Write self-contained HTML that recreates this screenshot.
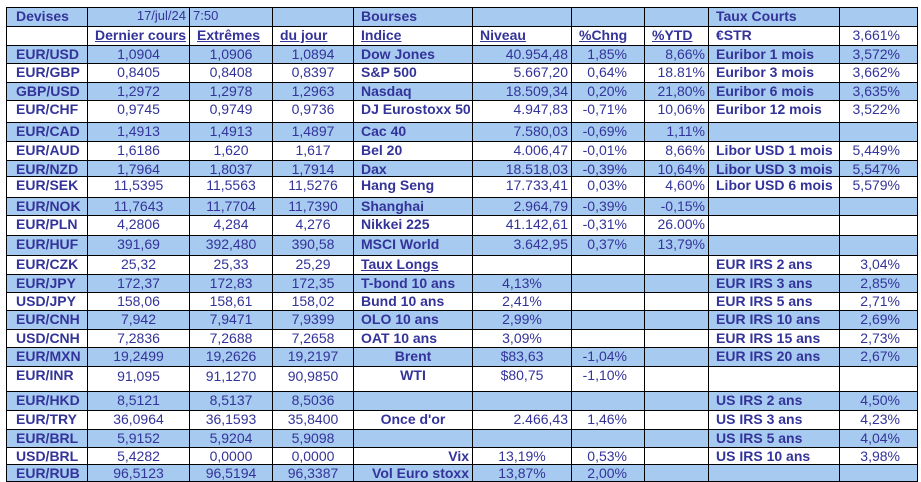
<!DOCTYPE html>
<html><head><meta charset="utf-8"><style>
body{margin:0;background:#fff;width:921px;height:482px;overflow:hidden}
table{position:absolute;left:6px;top:7px;width:912px;border-collapse:collapse;table-layout:fixed;font-family:"Liberation Sans",Arial,sans-serif;font-size:14px;color:#333399}
td{border:1px solid #000;padding:1px 3px 0 3px;line-height:14px;vertical-align:top;white-space:nowrap;overflow:hidden}
tr.b td{background:#a6caf0}
.l{font-weight:bold;text-align:left;padding-left:7px}
td.f{padding-left:9px}
.c{text-align:center}
.r{text-align:right}
.rp{text-align:right;padding-right:17px}
.u{text-decoration:underline;font-weight:bold;padding-left:7px}
.bc{font-weight:bold;text-align:center}
.br{font-weight:bold;text-align:right}
</style></head><body>
<table>
<colgroup><col style="width:81px"><col style="width:102px"><col style="width:83px"><col style="width:81px"><col style="width:119px"><col style="width:99px"><col style="width:73px"><col style="width:64px"><col style="width:131px"><col style="width:78px"></colgroup>
<tr class="b" style="height:19px"><td class="l f">Devises</td><td class="r" style="font-size:13px">17/jul/24</td><td style="font-size:13px">7:50</td><td></td><td class="l">Bourses</td><td></td><td></td><td></td><td class="l">Taux Courts</td><td></td></tr>
<tr style="height:19px"><td></td><td class="u">Dernier cours</td><td class="u">Extrêmes</td><td class="u">du jour</td><td class="u">Indice</td><td class="u">Niveau</td><td class="u">%Chng</td><td class="u">%YTD</td><td class="l">€STR</td><td class="rp">3,661%</td></tr>
<tr class="b" style="height:18px"><td class="l f">EUR/USD</td><td class="c">1,0904</td><td class="c">1,0906</td><td class="c">1,0894</td><td class="l">Dow Jones</td><td class="r">40.954,48</td><td class="rp">1,85%</td><td class="r">8,66%</td><td class="l">Euribor 1 mois</td><td class="rp">3,572%</td></tr>
<tr style="height:19px"><td class="l f">EUR/GBP</td><td class="c">0,8405</td><td class="c">0,8408</td><td class="c">0,8397</td><td class="l">S&amp;P 500</td><td class="r">5.667,20</td><td class="rp">0,64%</td><td class="r">18.81%</td><td class="l">Euribor 3 mois</td><td class="rp">3,662%</td></tr>
<tr class="b" style="height:18px"><td class="l f">GBP/USD</td><td class="c">1,2972</td><td class="c">1,2978</td><td class="c">1,2963</td><td class="l">Nasdaq</td><td class="r">18.509,34</td><td class="rp">0,20%</td><td class="r">21,80%</td><td class="l">Euribor 6 mois</td><td class="rp">3,635%</td></tr>
<tr style="height:22px"><td class="l f">EUR/CHF</td><td class="c">0,9745</td><td class="c">0,9749</td><td class="c">0,9736</td><td class="l">DJ Eurostoxx 50</td><td class="r">4.947,83</td><td class="rp">-0,71%</td><td class="r">10,06%</td><td class="l">Euribor 12 mois</td><td class="rp">3,522%</td></tr>
<tr class="b" style="height:19px"><td class="l f">EUR/CAD</td><td class="c">1,4913</td><td class="c">1,4913</td><td class="c">1,4897</td><td class="l">Cac 40</td><td class="r">7.580,03</td><td class="rp">-0,69%</td><td class="r">1,11%</td><td></td><td></td></tr>
<tr style="height:19px"><td class="l f">EUR/AUD</td><td class="c">1,6186</td><td class="c">1,620</td><td class="c">1,617</td><td class="l">Bel 20</td><td class="r">4.006,47</td><td class="rp">-0,01%</td><td class="r">8,66%</td><td class="l">Libor USD 1 mois</td><td class="rp">5,449%</td></tr>
<tr class="b" style="height:16px"><td class="l f">EUR/NZD</td><td class="c">1,7964</td><td class="c">1,8037</td><td class="c">1,7914</td><td class="l">Dax</td><td class="r">18.518,03</td><td class="rp">-0,39%</td><td class="r">10,64%</td><td class="l">Libor USD 3 mois</td><td class="rp">5,547%</td></tr>
<tr style="height:21px"><td class="l f">EUR/SEK</td><td class="c">11,5395</td><td class="c">11,5563</td><td class="c">11,5276</td><td class="l">Hang Seng</td><td class="r">17.733,41</td><td class="rp">0,03%</td><td class="r">4,60%</td><td class="l">Libor USD 6 mois</td><td class="rp">5,579%</td></tr>
<tr class="b" style="height:18px"><td class="l f">EUR/NOK</td><td class="c">11,7643</td><td class="c">11,7704</td><td class="c">11,7390</td><td class="l">Shanghai</td><td class="r">2.964,79</td><td class="rp">-0,39%</td><td class="r">-0,15%</td><td></td><td></td></tr>
<tr style="height:20px"><td class="l f">EUR/PLN</td><td class="c">4,2806</td><td class="c">4,284</td><td class="c">4,276</td><td class="l">Nikkei 225</td><td class="r">41.142,61</td><td class="rp">-0,31%</td><td class="r">26.00%</td><td></td><td></td></tr>
<tr class="b" style="height:20px"><td class="l f">EUR/HUF</td><td class="c">391,69</td><td class="c">392,480</td><td class="c">390,58</td><td class="l">MSCI World</td><td class="r">3.642,95</td><td class="rp">0,37%</td><td class="r">13,79%</td><td></td><td></td></tr>
<tr style="height:19px"><td class="l f">EUR/CZK</td><td class="c">25,32</td><td class="c">25,33</td><td class="c">25,29</td><td class="u">Taux Longs</td><td></td><td></td><td></td><td class="l">EUR IRS 2 ans</td><td class="rp">3,04%</td></tr>
<tr class="b" style="height:18px"><td class="l f">EUR/JPY</td><td class="c">172,37</td><td class="c">172,83</td><td class="c">172,35</td><td class="l">T-bond 10 ans</td><td class="c">4,13%</td><td></td><td></td><td class="l">EUR IRS 3 ans</td><td class="rp">2,85%</td></tr>
<tr style="height:18px"><td class="l f">USD/JPY</td><td class="c">158,06</td><td class="c">158,61</td><td class="c">158,02</td><td class="l">Bund 10 ans</td><td class="c">2,41%</td><td></td><td></td><td class="l">EUR IRS 5 ans</td><td class="rp">2,71%</td></tr>
<tr class="b" style="height:19px"><td class="l f">EUR/CNH</td><td class="c">7,942</td><td class="c">7,9471</td><td class="c">7,9399</td><td class="l">OLO 10 ans</td><td class="c">2,99%</td><td></td><td></td><td class="l">EUR IRS 10 ans</td><td class="rp">2,69%</td></tr>
<tr style="height:18px"><td class="l f">USD/CNH</td><td class="c">7,2836</td><td class="c">7,2688</td><td class="c">7,2658</td><td class="l">OAT 10 ans</td><td class="c">3,09%</td><td></td><td></td><td class="l">EUR IRS 15 ans</td><td class="rp">2,73%</td></tr>
<tr class="b" style="height:19px"><td class="l f">EUR/MXN</td><td class="c">19,2499</td><td class="c">19,2626</td><td class="c">19,2197</td><td class="bc">Brent</td><td class="c">$83,63</td><td class="rp">-1,04%</td><td></td><td class="l">EUR IRS 20 ans</td><td class="rp">2,67%</td></tr>
<tr style="height:25px"><td class="l f">EUR/INR</td><td class="c" style="padding-top:2px">91,095</td><td class="c" style="padding-top:2px">91,1270</td><td class="c" style="padding-top:2px">90,9850</td><td class="bc">WTI</td><td class="c">$80,75</td><td class="rp">-1,10%</td><td></td><td></td><td></td></tr>
<tr class="b" style="height:19px"><td class="l f">EUR/HKD</td><td class="c">8,5121</td><td class="c">8,5137</td><td class="c">8,5036</td><td></td><td></td><td></td><td></td><td class="l">US IRS 2 ans</td><td class="rp">4,50%</td></tr>
<tr style="height:19px"><td class="l f">EUR/TRY</td><td class="c">36,0964</td><td class="c">36,1593</td><td class="c">35,8400</td><td class="bc">Once d'or</td><td class="r">2.466,43</td><td class="rp">1,46%</td><td></td><td class="l">US IRS 3 ans</td><td class="rp">4,23%</td></tr>
<tr class="b" style="height:18px"><td class="l f">EUR/BRL</td><td class="c">5,9152</td><td class="c">5,9204</td><td class="c">5,9098</td><td></td><td></td><td></td><td></td><td class="l">US IRS 5 ans</td><td class="rp">4,04%</td></tr>
<tr style="height:17px"><td class="l f">USD/BRL</td><td class="c">5,4282</td><td class="c">0,0000</td><td class="c">0,0000</td><td class="br">Vix</td><td class="c">13,19%</td><td class="rp">0,53%</td><td></td><td class="l">US IRS 10 ans</td><td class="rp">3,98%</td></tr>
<tr class="b" style="height:17px"><td class="l f">EUR/RUB</td><td class="c">96,5123</td><td class="c">96,5194</td><td class="c">96,3387</td><td class="br">Vol Euro stoxx</td><td class="c">13,87%</td><td class="rp">2,00%</td><td></td><td></td><td></td></tr>
</table>
</body></html>
